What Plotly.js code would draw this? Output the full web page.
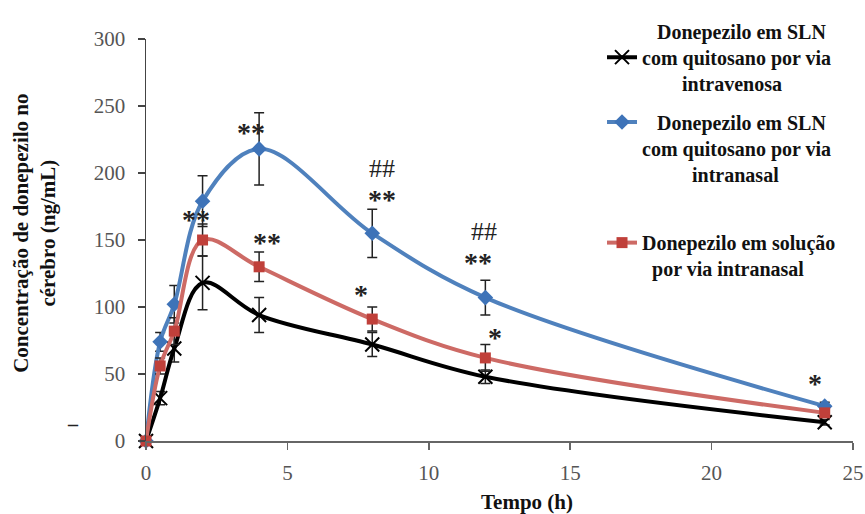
<!DOCTYPE html>
<html><head><meta charset="utf-8">
<script src="https://cdn.plot.ly/plotly-3.0.1.min.js"></script>
<style>html,body{margin:0;padding:0;background:#fff;}#chart{width:865px;height:514px;}</style>
</head><body><div id="chart"></div>
<script>
// ---- data ----
const tempo = [0, 0.5, 1, 2, 4, 8, 12, 24];
const ivSLN = [0, 32, 69, 118, 94, 72, 48, 14];
const ivSLNerr = [0, 5, 10, 20, 13, 9, 5, 2];
const inSLN = [0, 74, 102, 179, 218, 155, 107, 26];
const inSLNerr = [0, 7, 14, 19, 27, 18, 13, 3];
const inSol = [0, 56, 82, 150, 130, 91, 62, 21];
const inSolErr = [0, 6, 10, 12, 11, 9, 10, 3];
const seriesNames = [
  ["Donepezilo em SLN", "com quitosano por via", "intravenosa"],
  ["Donepezilo em SLN", "com quitosano por via", "intranasal"],
  ["Donepezilo em solução", "por via intranasal"]
];
const xTicks = [0, 5, 10, 15, 20, 25];
const yTicks = [0, 50, 100, 150, 200, 250, 300];
const xTitle = "Tempo (h)";
const yTitle = ["Concentração de donepezilo no", "cérebro (ng/mL)"];
const sigText = ["**", "**", "**", "##", "**", "##", "**", "*", "*", "*"];

// ---- layout helpers ----
const NB = "\u00A0";
function label(lines, pads) {
  return lines.map((s, i) => NB.repeat(pads[i]) + s).join("<br>");
}
const serif = "Liberation Serif, Times New Roman, serif";
const legFont = {family: serif, size: 20, weight: "bold", color: "#111"};

function trace(y, err, name, legend, color, lineColor, symbol, size, mline) {
  return {
    x: tempo, y: y, name: name, legend: legend,
    type: "scatter", mode: "lines+markers", cliponaxis: false,
    line: {shape: "spline", smoothing: 1, width: 4, color: lineColor},
    marker: {symbol: symbol, size: size, color: color, line: mline},
    error_y: {type: "data", array: err, visible: true, color: "#222", thickness: 1.5, width: 5}
  };
}

const data = [
  trace(ivSLN, ivSLNerr, label(seriesNames[0], [3, 0, 8]), "legend", "#000", "#000", "x-thin-open", 14, {color: "#000", width: 2}),
  trace(inSLN, inSLNerr, label(seriesNames[1], [3, 0, 10]), "legend2", "#3e73b8", "#4f81bd", "diamond", 12, {width: 0}),
  trace(inSol, inSolErr, label(seriesNames[2], [0, 2]), "legend3", "#c0403a", "#cd6a65", "square", 11, {width: 0})
];

// significance marks positions (time, concentration)
const sigPos = [[3.71, 230], [1.77, 165], [4.28, 148], [8.35, 203], [8.35, 180], [11.95, 156], [11.74, 133], [7.60, 109], [12.34, 77], [23.66, 43]];
const annotations = sigText.map((t, i) => ({
  x: sigPos[i][0], y: sigPos[i][1], xref: "x", yref: "y", text: t, showarrow: false,
  xanchor: "center", yanchor: "middle",
  font: t.indexOf("#") >= 0 ? {family: serif, size: 26, color: "#222"} : {family: serif, size: 28, weight: "bold", color: "#222"}
}));
annotations.push({
  x: 0.539, y: -0.152, xref: "paper", yref: "paper", text: xTitle, showarrow: false,
  xanchor: "center", yanchor: "middle", font: {family: serif, size: 21, weight: "bold", color: "#111"}
});
annotations.push({
  x: -0.158, y: 0.516, xref: "paper", yref: "paper", text: yTitle.join("<br>"), showarrow: false,
  textangle: -90, xanchor: "center", yanchor: "middle", font: {family: serif, size: 21, weight: "bold", color: "#111"}
});
annotations.push({
  x: -0.103, y: 0.042, xref: "paper", yref: "paper", text: "–", showarrow: false,
  xanchor: "center", yanchor: "middle", font: {family: serif, size: 20, weight: "bold", color: "#222"}
});

const legBase = {xanchor: "left", yanchor: "top", bgcolor: "rgba(0,0,0,0)", borderwidth: 0, font: legFont, itemclick: false, itemdoubleclick: false};

const layout = {
  width: 865, height: 514,
  margin: {l: 146, r: 12, t: 34, b: 73, pad: 0},
  paper_bgcolor: "#fff", plot_bgcolor: "#fff",
  showlegend: true,
  legend: Object.assign({}, legBase, {x: 0.645, y: 1.068, valign: "middle"}),
  legend2: Object.assign({}, legBase, {x: 0.645, y: 0.842, valign: "top"}),
  legend3: Object.assign({}, legBase, {x: 0.645, y: 0.542, valign: "top"}),
  xaxis: {
    range: [0, 25], tickvals: xTicks, ticktext: xTicks.map(String),
    showgrid: false, zeroline: false, showline: true, linecolor: "#666", linewidth: 1.5,
    ticks: "outside", ticklen: 7, tickwidth: 1.5, tickcolor: "#666", ticklabelstandoff: 5,
    tickfont: {family: serif, size: 21, color: "#555"}, fixedrange: true
  },
  yaxis: {
    range: [0, 300], tickvals: yTicks, ticktext: yTicks.map(String),
    showgrid: false, zeroline: false, showline: true, linecolor: "#444", linewidth: 1.5,
    ticks: "outside", ticklen: 7, tickwidth: 1.5, tickcolor: "#444", ticklabelstandoff: 8,
    tickfont: {family: serif, size: 21, color: "#555"}, fixedrange: true
  },
  annotations: annotations
};

Plotly.newPlot("chart", data, layout, {displayModeBar: false, staticPlot: true});
</script>
</body></html>
